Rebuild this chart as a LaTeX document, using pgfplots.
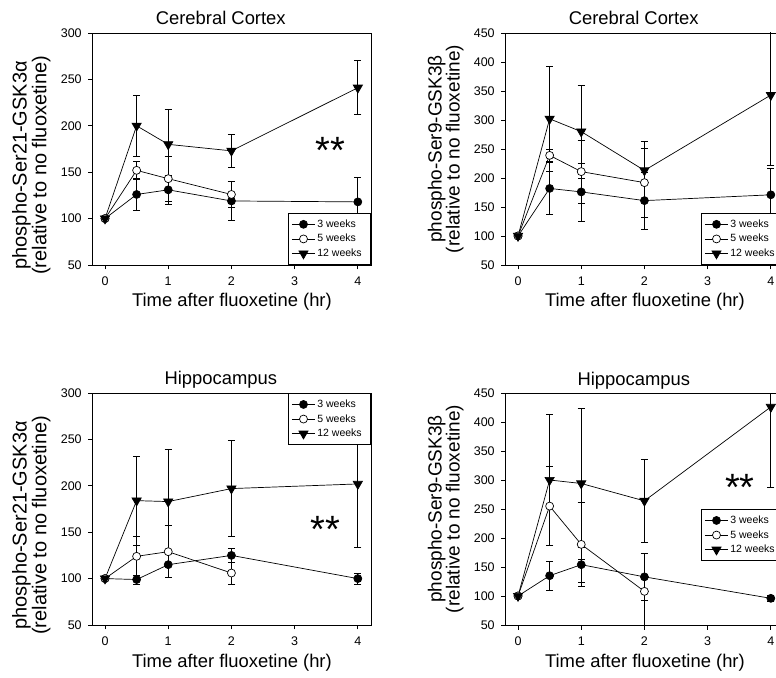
\documentclass[border=0pt]{standalone}
\usepackage{pgfplots}
\pgfplotsset{compat=1.18}
\usepackage{fontspec}
\setmainfont{Liberation Sans}

\newcommand{\wk}[1]{#1 weeks\hspace*{4pt}}

\pgfplotsset{
  panel/.style={
    scale only axis, width=278.4pt, height=232pt,
    xmin=-0.195, xmax=4.21, xtick={0,1,2,3,4},
    ymin=50,
    tick align=outside, tick pos=left, major tick length=4.5pt,
    axis line style={line width=0.9pt},
    every tick/.style={black, line width=0.8pt},
    /pgf/number format/assume math mode=true,
    tick label style={font=\fontsize{12.5}{14}\selectfont},
    xticklabel style={yshift=-3.5pt},
    yticklabel style={xshift=-3pt},
    title style={font=\fontsize{18.4}{21}\selectfont, at={(axis description cs:0.46,1)}, anchor=base, yshift=2pt},
    xlabel={Time after fluoxetine (hr)},
    xlabel style={font=\fontsize{18.4}{21}\selectfont, at={(axis description cs:0.5,0)}, anchor=base, yshift=-42pt},
    ylabel style={align=center, inner sep=0pt, anchor=south},
    legend style={draw=black, line width=0.8pt, fill=white,
      font=\fontsize{10.5}{12}\selectfont, inner xsep=3pt, inner ysep=4.5pt,
      row sep=1.5pt, cells={anchor=west}},
    legend image code/.code={\draw[mark repeat=2, mark phase=2]
      plot coordinates {(0pt,0pt) (11.5pt,0pt) (23pt,0pt)};},
    error bars/y dir=both, error bars/y explicit,
    error bars/error bar style={line width=0.7pt},
    error bars/error mark options={rotate=90, line width=0.7pt, mark size=3.6pt},
  },
  leftlab/.style={ylabel style={font=\fontsize{20}{18.5}\selectfont,
      at={(axis description cs:-0.151,0.43)}}},
  rightlab/.style={ylabel style={font=\fontsize{19}{18}\selectfont,
      at={(axis description cs:-0.151,0.5)}}},
  w3/.style={black, line width=0.7pt, mark=*, mark size=4pt, mark options={solid, fill=black}},
  w5/.style={black, line width=0.7pt, mark=*, mark size=4pt, mark options={solid, fill=white}},
  w12/.style={black, line width=0.7pt, mark=triangle*, mark size=5.3pt, mark options={solid, fill=black, rotate=180}},
}

\begin{document}
\begin{tikzpicture}
\useasboundingbox (0,0) rectangle (776pt,677pt);
\clip (0,0) rectangle (776pt,677pt);

% Cerebral cortex, GSK3alpha
\begin{axis}[panel, leftlab, at={(92.7pt,412pt)}, anchor=south west,
    ymax=300, ytick={50,100,...,300},
    title={Cerebral Cortex},
    ylabel={phospho-Ser21-GSK3α\\(relative to no fluoxetine)},
    legend style={at={(1,0)}, anchor=south east}]
\addplot[w3] coordinates {(0,100) +- (0,0) (0.5,126) +- (0,17) (1,131) +- (0,16) (2,119) +- (0,21) (4,118) +- (0,26)};
\addlegendentry{\wk{3}}
\addplot[w5] coordinates {(0,100) +- (0,0) (0.5,152) +- (0,10) (1,143) +- (0,24) (2,126) +- (0,14)};
\addlegendentry{\wk{5}}
\addplot[w12] coordinates {(0,100) +- (0,0) (0.5,200) +- (0,33) (1,180) +- (0,38) (2,173) +- (0,18) (4,241) +- (0,29)};
\addlegendentry{\wk{12}}
\node[anchor=base, font=\fontsize{38}{38}\selectfont] at (axis cs:3.56,178.6) {\raisebox{-0.46em}{**}};
\end{axis}

% Cerebral cortex, GSK3beta
\begin{axis}[panel, rightlab, at={(505.7pt,412pt)}, anchor=south west,
    ymax=450, ytick={50,100,...,450},
    title={Cerebral Cortex},
    ylabel={phospho-Ser9-GSK3β\\(relative to no fluoxetine)},
    legend style={at={(1,0)}, anchor=south east}]
\addplot[w3] coordinates {(0,100) +- (0,0) (0.5,182) +- (0,45) (1,176) +- (0,50) (2,161) +- (0,49) (4,171) +- (0,46)};
\addlegendentry{\wk{3}}
\addplot[w5] coordinates {(0,100) +- (0,0) (0.5,239) +- (0,11) (1,211) +- (0,54) (2,192) +- (0,59)};
\addlegendentry{\wk{5}}
\addplot[w12] coordinates {(0,100) +- (0,0) (0.5,302) +- (0,91) (1,280) +- (0,80) (2,213) +- (0,50) (4,343) +- (0,122)};
\addlegendentry{\wk{12}}
\end{axis}

% Hippocampus, GSK3alpha
\begin{axis}[panel, leftlab, at={(92.7pt,52pt)}, anchor=south west,
    ymax=300, ytick={50,100,...,300},
    title={Hippocampus},
    ylabel={phospho-Ser21-GSK3α\\(relative to no fluoxetine)},
    legend style={at={(1,1)}, anchor=north east}]
\addplot[w3] coordinates {(0,100) +- (0,0) (0.5,99) +- (0,5) (1,115) +- (0,14) (2,125) +- (0,8) (4,100) +- (0,6)};
\addlegendentry{\wk{3}}
\addplot[w5] coordinates {(0,100) +- (0,0) (0.5,124) +- (0,21) (1,129) +- (0,28) (2,106) +- (0,12)};
\addlegendentry{\wk{5}}
\addplot[w12] coordinates {(0,100) +- (0,0) (0.5,184) +- (0,48) (1,183) +- (0,56) (2,197) +- (0,52) (4,202) +- (0,68)};
\addlegendentry{\wk{12}}
\node[anchor=base, font=\fontsize{38}{38}\selectfont] at (axis cs:3.49,157.6) {\raisebox{-0.46em}{**}};
\end{axis}

% Hippocampus, GSK3beta
\begin{axis}[panel, rightlab, at={(505.7pt,52pt)}, anchor=south west,
    ymax=450, ytick={50,100,...,450},
    title={Hippocampus},
    ylabel={phospho-Ser9-GSK3β\\(relative to no fluoxetine)},
    legend style={at={(1,0.5)}, anchor=north east}]
\addplot[w3] coordinates {(0,100) +- (0,0) (0.5,135) +- (0,25) (1,154) +- (0,30) (2,133) +- (0,41) (4,96) +- (0,5)};
\addlegendentry{\wk{3}}
\addplot[w5] coordinates {(0,100) +- (0,0) (0.5,255) +- (0,68) (1,189) +- (0,72) (2,108) +- (0,65)};
\addlegendentry{\wk{5}}
\addplot[w12] coordinates {(0,100) +- (0,0) (0.5,300) +- (0,113) (1,294) +- (0,130) (2,264) +- (0,71) (4,426) +- (0,138)};
\addlegendentry{\wk{12}}
\node[anchor=base, font=\fontsize{38}{38}\selectfont] at (axis cs:3.51,295) {\raisebox{-0.46em}{**}};
\end{axis}
\end{tikzpicture}
\end{document}
